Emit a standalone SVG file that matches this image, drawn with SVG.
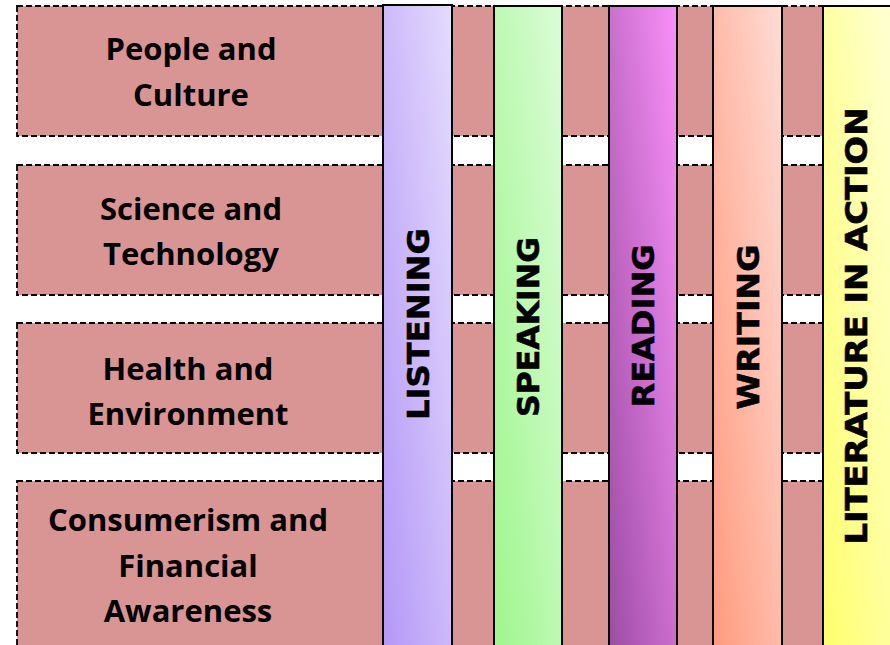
<svg xmlns="http://www.w3.org/2000/svg" width="890" height="645" viewBox="0 0 890 645">
<defs>
<linearGradient id="gL" x1="0" y1="1" x2="1" y2="0"><stop offset="0" stop-color="#b496f7"/><stop offset="1" stop-color="#e4dcfd"/></linearGradient>
<linearGradient id="gS" x1="0" y1="1" x2="1" y2="0"><stop offset="0" stop-color="#9ef68c"/><stop offset="1" stop-color="#dcfcd8"/></linearGradient>
<linearGradient id="gR" x1="0" y1="1" x2="1" y2="0"><stop offset="0" stop-color="#9c4ca4"/><stop offset="1" stop-color="#fa90fa"/></linearGradient>
<linearGradient id="gW" x1="0" y1="1" x2="1" y2="0"><stop offset="0" stop-color="#ff9a7c"/><stop offset="1" stop-color="#ffdcd6"/></linearGradient>
<linearGradient id="gA" x1="0" y1="1" x2="1" y2="0"><stop offset="0" stop-color="#ffff6c"/><stop offset="1" stop-color="#ffffdc"/></linearGradient>
</defs>
<style>
.row{fill:#d99594;stroke:#000;stroke-width:1.8;stroke-dasharray:6 3}
.bar{stroke:#000;stroke-width:2}
.rt{font-family:"Open Sans","Liberation Sans",sans-serif;font-weight:bold;font-size:31px;fill:#000;text-anchor:middle}
.vt{font-family:"DejaVu Sans","Liberation Sans",sans-serif;font-weight:bold;font-size:31px;fill:#000;text-anchor:middle;stroke:#000;stroke-width:0.6}
</style>
<rect width="890" height="645" fill="#fff"/>
<g id="row1"><rect class="row" x="17" y="6" width="890" height="130"/>
<text class="rt" x="191" y="60">People and</text><text class="rt" x="191" y="106">Culture</text></g>
<g id="row2"><rect class="row" x="17" y="165" width="890" height="130"/>
<text class="rt" x="191" y="220">Science and</text><text class="rt" x="191" y="265">Technology</text></g>
<g id="row3"><rect class="row" x="17" y="323" width="890" height="130"/>
<text class="rt" x="188" y="380">Health and</text><text class="rt" x="188" y="425">Environment</text></g>
<g id="row4"><rect class="row" x="17" y="481" width="890" height="200"/>
<text class="rt" x="188" y="531">Consumerism and</text><text class="rt" x="188" y="577">Financial</text><text class="rt" x="188" y="622">Awareness</text></g>
<g id="listening"><rect class="bar" x="383" y="5" width="69" height="650" fill="url(#gL)"/>
<text class="vt" transform="translate(429,324) rotate(-90)" textLength="192" lengthAdjust="spacingAndGlyphs">LISTENING</text></g>
<g id="speaking"><rect class="bar" x="494" y="6" width="68" height="650" fill="url(#gS)"/>
<text class="vt" transform="translate(539,327) rotate(-90)" textLength="180" lengthAdjust="spacingAndGlyphs">SPEAKING</text></g>
<g id="reading"><rect class="bar" x="609" y="6" width="68" height="650" fill="url(#gR)"/>
<text class="vt" transform="translate(654,326) rotate(-90)" textLength="163" lengthAdjust="spacingAndGlyphs">READING</text></g>
<g id="writing"><rect class="bar" x="713" y="6" width="69" height="650" fill="url(#gW)"/>
<text class="vt" transform="translate(759,327) rotate(-90)" textLength="165" lengthAdjust="spacingAndGlyphs">WRITING</text></g>
<g id="literature"><rect class="bar" x="823" y="6" width="80" height="650" fill="url(#gA)"/>
<text class="vt" transform="translate(867,326) rotate(-90)" textLength="437" lengthAdjust="spacingAndGlyphs">LITERATURE  IN  ACTION</text></g>
<g id="connectors"/>
</svg>
